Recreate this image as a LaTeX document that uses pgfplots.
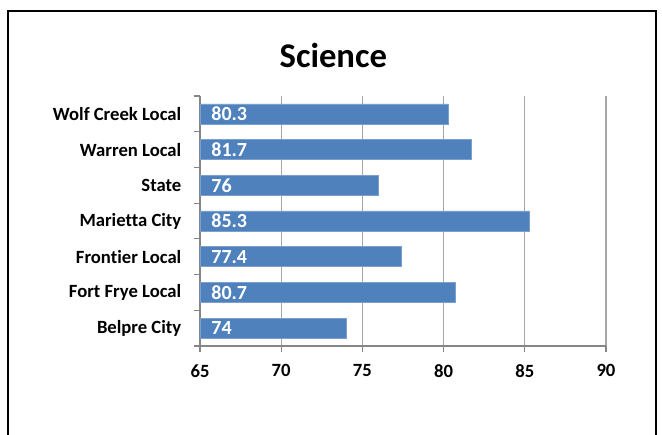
\documentclass[border=0pt]{standalone}
\usepackage{pgfplots}
\pgfplotsset{compat=1.18}
\usepackage{fontspec}
\setmainfont{Carlito}[Ligatures=NoCommon]
\definecolor{barblue}{HTML}{4F81BD}
\definecolor{gridgray}{HTML}{A6A6A6}
\definecolor{axgray}{HTML}{868686}

\begin{document}
\begin{tikzpicture}[x=1pt,y=1pt]
\useasboundingbox (0,0) rectangle (496.5,326.25);
\draw[line width=1.3pt] (6,-10) -- (6,318) -- (492,318) -- (492,-10);
\node[font=\bfseries\fontsize{26}{30}\selectfont] at (250,285) {Science};
\begin{axis}[
  at={(150pt,66.75pt)}, anchor=south west,
  scale only axis, width=304.5pt, height=187.5pt,
  xmin=65, xmax=90, ymin=-0.5, ymax=6.5,
  xtick={65,70,...,90},
  ytick={0,...,6},
  yticklabels={Belpre City, Fort Frye Local, Frontier Local, Marietta City, State, Warren Local, Wolf Creek Local},
  minor ytick={-0.5,0.5,...,6.5},
  axis x line*=bottom, axis y line*=left,
  axis line style={axgray, line width=0.8pt, -},
  xmajorgrids, major x grid style={gridgray, line width=0.8pt},
  tick align=outside,
  major tick length=4.5pt, minor tick length=4.5pt,
  every tick/.style={axgray, line width=0.8pt},
  major y tick style={draw=none},
  tick label style={font=\bfseries\fontsize{14}{16}\selectfont},
  /pgf/number format/assume math mode=true,
  yticklabel style={xshift=-6pt},
  xticklabel style={yshift=-6pt},
]
\addplot[xbar, fill=barblue, draw=barblue!75!white, bar width=15pt]
  coordinates {(74,0) (80.7,1) (77.4,2) (85.3,3) (76,4) (81.7,5) (80.3,6)};
\addplot[draw=none, mark=none, nodes near coords, point meta=explicit symbolic,
  every node near coord/.style={anchor=west, text=white, xshift=5pt,
    font=\bfseries\fontsize{15}{17}\selectfont}]
  coordinates {(65,0)[74] (65,1)[80.7] (65,2)[77.4] (65,3)[85.3] (65,4)[76] (65,5)[81.7] (65,6)[80.3]};
\end{axis}
\end{tikzpicture}
\end{document}
